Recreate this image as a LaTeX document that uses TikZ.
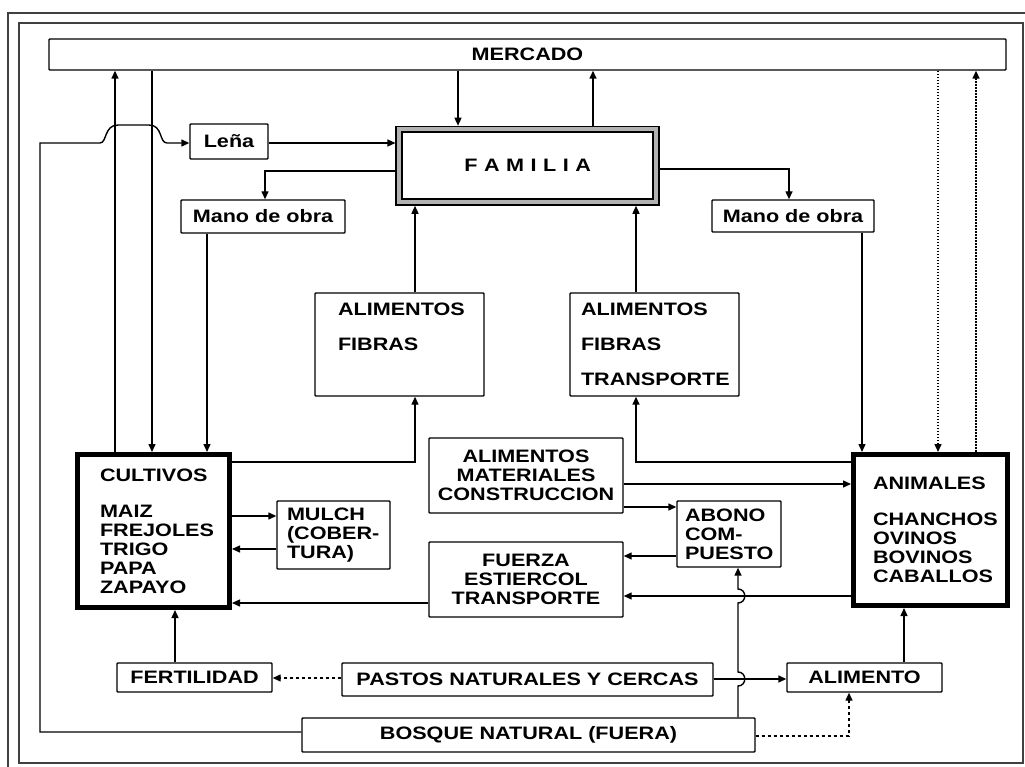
\documentclass[tikz,border=0pt]{standalone}
\usepackage{fontspec}
\newfontfamily\lab{Liberation Sans}[FakeStretch=1.2]
\usetikzlibrary{arrows.meta}

\tikzset{
  lbl/.style={font=\lab\bfseries\fontsize{18}{19}\selectfont},
  box/.style={draw=black, line width=1.4pt, rounded corners=0.8pt, inner sep=0pt, lbl, align=center},
  thickbox/.style={draw=black, line width=5pt, inner sep=0pt, lbl},
  lbox/.style={align=left, inner xsep=#1},
  arr/.style={draw=black, line width=1.4pt, -{Triangle[length=8pt,width=7pt]}},
  dotarr/.style={arr, dash pattern=on 1.6pt off 1.4pt},
  dasharr/.style={arr, dash pattern=on 3.5pt off 2.5pt},
  frame/.style={draw=black!75, line width=1.5pt},
}

\begin{document}
\begin{tikzpicture}[x=1pt, y=-1pt]
\useasboundingbox (0,0) rectangle (1025,767);
\fill[white] (0,0) rectangle (1025,767);

% page frames
\draw[frame] (8,767) -- (8,13) -- (1025,13);
\draw[frame] (19,23) rectangle (1023,763);

% boxes
\node[box, minimum width=957pt, minimum height=31pt] (merc) at (527.5,54.5) {MERCADO};
\node[box, minimum width=78pt, minimum height=35pt] (lena) at (229,141.5) {Leña};
\node[draw=black, line width=1.8pt, double=black!30, double distance=4pt,
      minimum width=257pt, minimum height=72.5pt, outer sep=3.8pt, lbl]
      (fam) at (527.75,165.75) {F\hspace{6.5pt}A\hspace{6.5pt}M\hspace{6.5pt}I\hspace{6.5pt}L\hspace{6.5pt}I\hspace{6.5pt}A};
\node[box, minimum width=164pt, minimum height=33pt] (manoL) at (263,216.5) {Mano de obra};
\node[box, minimum width=162pt, minimum height=32pt] (manoR) at (793,216) {Mano de obra};

\node[box, lbox=23pt, text width=123pt, minimum height=103pt] (alfL) at (399.5,344.5)
  {ALIMENTOS\\[16pt]FIBRAS\\[16pt]\phantom{TRANSPORTE}};
\node[box, lbox=11pt, text width=147pt, minimum height=103pt] (alfR) at (654.5,344.5)
  {ALIMENTOS\\[16pt]FIBRAS\\[16pt]TRANSPORTE};

\node[thickbox, lbox=22.5pt, text width=107pt, minimum width=152pt, minimum height=153pt] (cult) at (153.5,531)
  {CULTIVOS\\[17pt]MAIZ\\FREJOLES\\TRIGO\\PAPA\\ZAPAYO};
\node[box, lbox=10pt, text width=93pt, minimum height=68pt] (mulch) at (333.5,535)
  {MULCH\\(COBER-\\TURA)};
\node[box, text width=194pt, minimum height=75pt] (amc) at (526,475.5)
  {ALIMENTOS\\MATERIALES\\CONSTRUCCION};
\node[box, text width=194pt, minimum height=75pt] (fet) at (526,579.5)
  {FUERZA\\ESTIERCOL\\TRANSPORTE};
\node[box, lbox=8pt, text width=88pt, minimum height=66pt] (abono) at (729,534)
  {ABONO\\COM-\\PUESTO};
\node[thickbox, lbox=19.5pt, text width=115pt, minimum width=154pt, minimum height=151pt] (anim) at (930.5,530)
  {ANIMALES\\[17pt]CHANCHOS\\OVINOS\\BOVINOS\\CABALLOS};

\node[box, minimum width=155pt, minimum height=29pt] (fert) at (194.5,677.5) {FERTILIDAD};
\node[box, minimum width=371pt, minimum height=33pt] (pastos) at (527.5,679.5) {PASTOS NATURALES Y CERCAS};
\node[box, minimum width=155pt, minimum height=29pt] (alim) at (864.5,677.5) {ALIMENTO};
\node[box, minimum width=453pt, minimum height=34pt] (bosque) at (528.5,735) {BOSQUE NATURAL (FUERA)};

% market and family
\draw[arr] (458,0 |- merc.south) -- (458,0 |- fam.north);
\draw[arr] (593,0 |- fam.north) -- (593,0 |- merc.south);
\draw[arr] (115,0 |- cult.north) -- (115,0 |- merc.south);
\draw[arr] (152,0 |- merc.south) -- (152,0 |- cult.north);
\draw[dotarr] (938,0 |- merc.south) -- (938,0 |- anim.north);
\draw[dotarr] (976,0 |- anim.north) -- (976,0 |- merc.south);

% labour
\draw[arr] (0,171 -| fam.west) -| (265,0 |- manoL.north);
\draw[arr] (0,169 -| fam.east) -| (789,0 |- manoR.north);
\draw[arr] (207,0 |- manoL.south) -- (207,0 |- cult.north);
\draw[arr] (862,0 |- manoR.south) -- (862,0 |- anim.north);

% firewood from the forest, hopping over the two market lines
\draw[arr] (0,732 -| bosque.west) -| (40,143) -- (100,143)
  .. controls (107,143) and (104,125) .. (118,125) -- (149,125)
  .. controls (163,125) and (159,143) .. (167,143) -- (0,143 -| lena.west);
\draw[arr] (0,143 -| lena.east) -- (0,143 -| fam.west);

% food and fibre to the family
\draw[arr] (415,0 |- alfL.north) -- (415,0 |- fam.south);
\draw[arr] (0,462 -| cult.east) -| (415,0 |- alfL.south);
\draw[arr] (636,0 |- alfR.north) -- (636,0 |- fam.south);
\draw[arr] (0,462 -| anim.west) -| (636,0 |- alfR.south);

% crop and animal exchanges
\draw[arr] (0,484 -| amc.east) -- (0,484 -| anim.west);
\draw[arr] (0,507 -| amc.east) -- (0,507 -| abono.west);
\draw[arr] (0,516 -| cult.east) -- (0,516 -| mulch.west);
\draw[arr] (0,549 -| mulch.west) -- (0,549 -| cult.east);
\draw[arr] (0,603 -| fet.west) -- (0,603 -| cult.east);
\draw[arr] (0,556 -| abono.west) -- (0,556 -| fet.east);
\draw[arr] (0,596 -| anim.west) -- (0,596 -| fet.east);

% forest to compost, hopping over two crossings
\draw[arr] (738,0 |- bosque.north) -- (738,686)
  .. controls (747,686) and (747,672) .. (738,672) -- (738,603)
  .. controls (747,603) and (747,589) .. (738,589) -- (738,0 |- abono.south);

% pastures, fertility and feed
\draw[arr] (0,679 -| pastos.east) -- (0,679 -| alim.west);
\draw[dasharr] (0,678 -| pastos.west) -- (0,678 -| fert.east);
\draw[arr] (175,0 |- fert.north) -- (175,0 |- cult.south);
\draw[arr] (904,0 |- alim.north) -- (904,0 |- anim.south);
\draw[dasharr] (0,736 -| bosque.east) -| (849,0 |- alim.south);
\end{tikzpicture}
\end{document}
